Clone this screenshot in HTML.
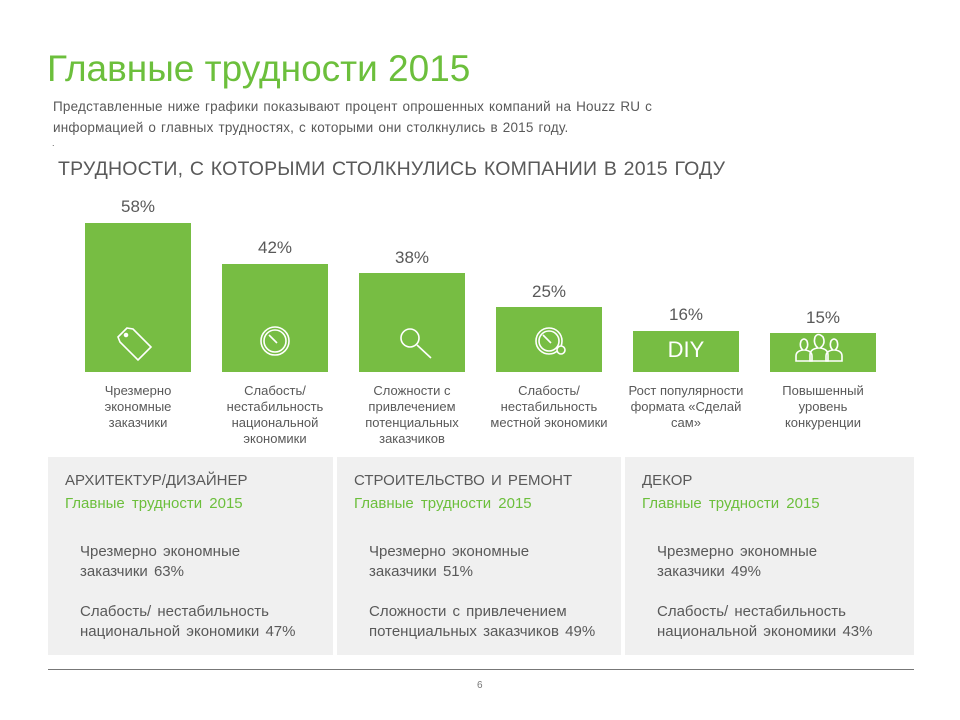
<!DOCTYPE html>
<html><head><meta charset="utf-8"><style>
*{margin:0;padding:0;box-sizing:border-box}
body{width:960px;height:720px;background:#fff;font-family:"Liberation Sans",sans-serif;position:relative;overflow:hidden;color:#595959}
.a{position:absolute;white-space:nowrap}
.bar{position:absolute;background:#77bd43;width:106px}
.pct{position:absolute;width:106px;text-align:center;font-size:17px;color:#595959}
.lab{position:absolute;width:140px;text-align:center;font-size:13px;line-height:16px;color:#595959}
.panel{position:absolute;top:457px;height:198px;background:#f0f0f0}
.ph{position:absolute;left:17px;top:15px;font-size:15px;color:#595959;word-spacing:2px}
.pg{position:absolute;left:17px;top:38px;font-size:15px;color:#6cbf3c;word-spacing:3px}
.pt{position:absolute;left:32px;font-size:15px;line-height:20px;color:#595959;word-spacing:2px}
</style></head><body>
<div class="a" style="left:47px;top:48px;font-size:37px;color:#6cbf3c">Главные трудности 2015</div>
<div class="a" style="left:53px;top:96px;font-size:13.5px;line-height:21px;letter-spacing:0.2px;word-spacing:1px">Представленные ниже графики показывают процент опрошенных компаний на Houzz RU с<br>информацией о главных трудностях, с которыми они столкнулись в 2015 году.</div>
<div class="a" style="left:52px;top:138px;font-size:9px">.</div>
<div class="a" style="left:58px;top:158px;font-size:19.5px;color:#595959;letter-spacing:0.2px;word-spacing:1px">ТРУДНОСТИ, С КОТОРЫМИ СТОЛКНУЛИСЬ КОМПАНИИ В 2015 ГОДУ</div>

<div class="pct" style="left:85px;top:197px">58%</div><div class="bar" style="left:85px;top:223px;height:149px"></div>
<div class="pct" style="left:222px;top:238px">42%</div><div class="bar" style="left:222px;top:264px;height:108px"></div>
<div class="pct" style="left:359px;top:248px">38%</div><div class="bar" style="left:359px;top:273px;height:99px"></div>
<div class="pct" style="left:496px;top:282px">25%</div><div class="bar" style="left:496px;top:307px;height:65px"></div>
<div class="pct" style="left:633px;top:305px">16%</div><div class="bar" style="left:633px;top:331px;height:41px;color:#fff;font-size:22px;text-align:center;line-height:38px">DIY</div>
<div class="pct" style="left:770px;top:308px">15%</div><div class="bar" style="left:770px;top:333px;height:39px"></div>

<svg class="a" style="left:0;top:0" width="960" height="400" fill="none" stroke="#fff" stroke-width="1.6">
<path d="M118 337 L127 328 L133 329 L151 347 L138 360 L120 342 Z"/><circle cx="126" cy="335" r="1.5" fill="#fff"/>
<circle cx="275" cy="341" r="14"/><circle cx="275" cy="341" r="11"/><path d="M269 335 L277 343"/>
<circle cx="410" cy="338" r="9"/><path d="M417 345 L431 358"/>
<circle cx="549" cy="341" r="13"/><circle cx="549" cy="341" r="10"/><path d="M543 335 L551 343"/><circle cx="561" cy="350" r="4" fill="#77bd43"/>
<path d="M796 361 v-5 q0-5 7-6 q-4-3-2-9 q3-4 6 0 q2 6-2 9 q7 1 7 6 v5 Z"/>
<path d="M810 361 v-6 q0-6 8-7 q-5-4-3-11 q3-5 8 0 q3 7-3 11 q8 1 8 7 v6 Z"/>
<path d="M826 361 v-5 q0-5 7-6 q-4-3-2-9 q3-4 6 0 q2 6-2 9 q7 1 7 6 v5 Z"/>
</svg>

<div class="lab" style="left:68px;top:383px">Чрезмерно<br>экономные<br>заказчики</div>
<div class="lab" style="left:205px;top:383px">Слабость/<br>нестабильность<br>национальной<br>экономики</div>
<div class="lab" style="left:342px;top:383px">Сложности с<br>привлечением<br>потенциальных<br>заказчиков</div>
<div class="lab" style="left:479px;top:383px">Слабость/<br>нестабильность<br>местной экономики</div>
<div class="lab" style="left:616px;top:383px">Рост популярности<br>формата «Сделай<br>сам»</div>
<div class="lab" style="left:753px;top:383px">Повышенный<br>уровень<br>конкуренции</div>

<div class="panel" style="left:48px;width:285px"><div class="ph">АРХИТЕКТУР/ДИЗАЙНЕР</div><div class="pg">Главные трудности 2015</div>
<div class="pt" style="top:85px">Чрезмерно экономные<br>заказчики 63%</div><div class="pt" style="top:145px">Слабость/ нестабильность<br>национальной экономики 47%</div></div>
<div class="panel" style="left:337px;width:284px"><div class="ph">СТРОИТЕЛЬСТВО И РЕМОНТ</div><div class="pg">Главные трудности 2015</div>
<div class="pt" style="top:85px">Чрезмерно экономные<br>заказчики 51%</div><div class="pt" style="top:145px">Сложности с привлечением<br>потенциальных заказчиков 49%</div></div>
<div class="panel" style="left:625px;width:289px"><div class="ph">ДЕКОР</div><div class="pg">Главные трудности 2015</div>
<div class="pt" style="top:85px">Чрезмерно экономные<br>заказчики 49%</div><div class="pt" style="top:145px">Слабость/ нестабильность<br>национальной экономики 43%</div></div>

<div class="a" style="left:48px;top:669px;width:866px;height:1px;background:#777"></div>
<div class="a" style="left:477px;top:680px;font-size:10px;color:#777">6</div>
</body></html>
